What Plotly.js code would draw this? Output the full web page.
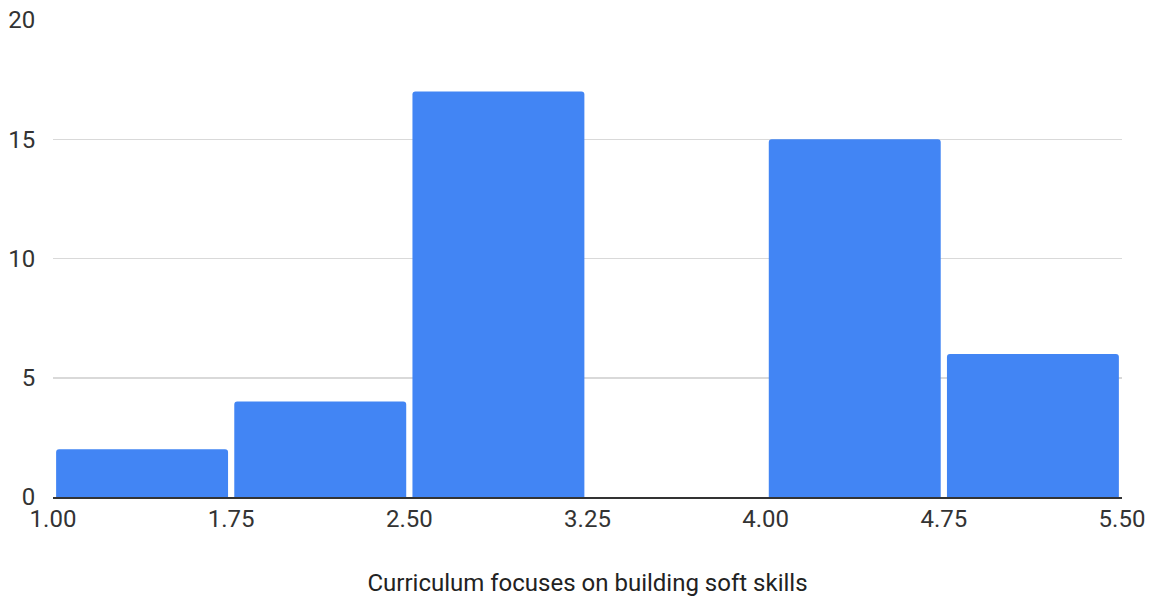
<!DOCTYPE html>
<html>
<head>
<meta charset="utf-8">
<script src="https://cdn.plot.ly/plotly-3.0.1.min.js"></script>
<style>html,body{margin:0;padding:0;background:#fff;}#chart{width:1153px;height:603px;}</style>
</head>
<body>
<div id="chart"></div>
<script>
const binStarts = [1.00, 1.75, 2.50, 3.25, 4.00, 4.75];
const binSize = 0.75;
const counts = [2, 4, 17, 0, 15, 6];
const xTickVals = [1.00, 1.75, 2.50, 3.25, 4.00, 4.75, 5.50];
const yTickVals = [0, 5, 10, 15, 20];
const xTitle = 'Curriculum focuses on building soft skills';

const centers = binStarts.map(s => s + binSize / 2);
const trace = {
  type: 'bar',
  x: centers,
  y: counts,
  width: binStarts.map(() => binSize * 0.965),
  marker: { color: '#4285f4', cornerradius: 3 },
  hoverinfo: 'x+y'
};
const layout = {
  width: 1153, height: 603,
  margin: { l: 53, r: 31, t: 20, b: 106 },
  paper_bgcolor: '#ffffff', plot_bgcolor: '#ffffff',
  font: { family: 'Roboto, Arial, sans-serif', size: 24, color: '#333333' },
  showlegend: false,
  xaxis: {
    range: [1, 5.5],
    tickvals: xTickVals,
    ticktext: xTickVals.map(v => v.toFixed(2)),
    showgrid: false, zeroline: false,
    showline: true, linecolor: '#333333', linewidth: 1.5,
    ticks: '', ticklen: 0,
    tickfont: { size: 24, color: '#333333' },
    title: { text: xTitle, font: { size: 24, color: '#222222' }, standoff: 42 }
  },
  yaxis: {
    range: [0, 20],
    tickvals: yTickVals,
    showgrid: true, gridcolor: '#d9d9d9', gridwidth: 1.5,
    zeroline: false, showline: false,
    ticks: 'outside', ticklen: 12, tickcolor: 'rgba(0,0,0,0)',
    tickfont: { size: 24, color: '#333333' }
  }
};
Plotly.newPlot('chart', [trace], layout, { displayModeBar: false, staticPlot: true });
</script>
</body>
</html>
